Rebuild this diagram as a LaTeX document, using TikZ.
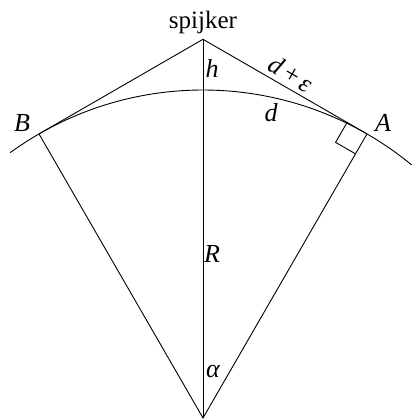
\documentclass[tikz,border=0pt]{standalone}
\usepackage{fontspec}
\setmainfont{Liberation Serif}
\usetikzlibrary{calc}
\tikzset{lbl/.style={font=\fontsize{26}{28}\selectfont\itshape, inner sep=0pt}}
\begin{document}
\begin{tikzpicture}[x=1pt,y=1pt,line width=0.9pt]
\useasboundingbox (0,0) rectangle (412,419);
\coordinate (O) at (203,1);
\coordinate (A) at ($(O)+(60:328)$);
\coordinate (B) at ($(O)+(120:328)$);
\coordinate (S) at ($(O)+(0,378.7)$);
\coordinate (arcstart) at ($(O)+(126:328)$);
% arc
\draw (arcstart) arc[start angle=126, end angle=50.5, radius=328];
% lines
\draw (B) -- (S) -- (A);
\draw (B) -- (O) -- (A);
\draw (O) -- (S);
% right angle
\coordinate (P1) at ($(A)!23pt!(S)$);
\coordinate (P2) at ($(A)!23pt!(O)$);
\coordinate (PC) at ($(P1)+(P2)-(A)$);
\draw (P1) -- (PC) -- (P2);
% labels
\node[font=\fontsize{25}{27}\selectfont, inner sep=0pt] (sp) at (203,397) {spijker};
\node[lbl] (h) at (212,351) {h};
\node[lbl, rotate=-30] (de) at (291,345) {d\kern3pt+\kern3pt ε};
\node[lbl] (d) at (271,306) {d};
\node[lbl] (la) at (383,296) {A};
\node[lbl] (lb) at (22,296) {B};
\node[lbl] (r) at (212,165) {R};
\node[lbl] (al) at (213,47) {α};
\end{tikzpicture}
\end{document}
